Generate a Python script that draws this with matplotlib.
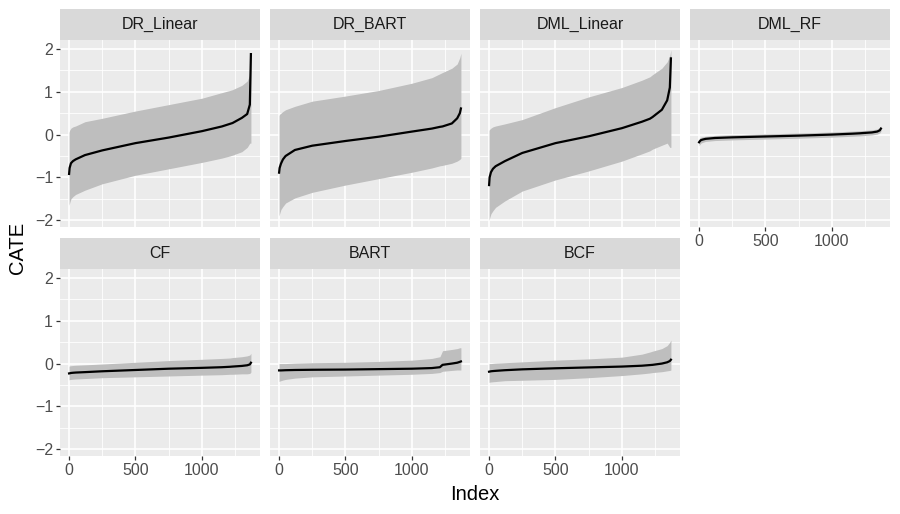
import matplotlib
matplotlib.use("Agg")
import matplotlib.pyplot as plt
import numpy as np

plt.rcParams['font.family'] = ['Liberation Sans', 'DejaVu Sans']

# panel order, as in facet_wrap
models = ['DR_Linear', 'DR_BART', 'DML_Linear', 'DML_RF', 'CF', 'BART', 'BCF']

# observation index (sorted by estimate) at which the curves were read off
index = [1, 5, 15, 30, 50, 120, 250, 500, 750, 1000, 1150, 1210, 1230, 1300, 1340, 1360, 1368]

# estimated CATE and interval bounds per model, read at the index values above
dr_linear_est = [-0.92, -0.78, -0.67, -0.62, -0.58, -0.48, -0.37, -0.20, -0.07, 0.08, 0.19, 0.25, 0.27, 0.39, 0.48, 0.70, 1.88]
dr_linear_lo = [-1.65, -1.60, -1.50, -1.45, -1.40, -1.30, -1.15, -0.95, -0.80, -0.65, -0.55, -0.50, -0.48, -0.40, -0.30, -0.20, -0.20]
dr_linear_hi = [0.05, 0.10, 0.15, 0.18, 0.20, 0.30, 0.38, 0.55, 0.70, 0.85, 0.98, 1.03, 1.05, 1.15, 1.25, 1.40, 1.95]

dr_bart_est = [-0.89, -0.78, -0.68, -0.58, -0.50, -0.36, -0.26, -0.15, -0.05, 0.07, 0.14, 0.18, 0.19, 0.26, 0.38, 0.50, 0.61]
dr_bart_lo = [-1.90, -1.85, -1.75, -1.68, -1.60, -1.48, -1.35, -1.18, -1.03, -0.88, -0.78, -0.73, -0.72, -0.67, -0.62, -0.58, -0.55]
dr_bart_hi = [0.45, 0.47, 0.50, 0.54, 0.58, 0.66, 0.78, 0.90, 1.03, 1.20, 1.33, 1.42, 1.45, 1.55, 1.65, 1.80, 1.90]

dml_linear_est = [-1.18, -1.00, -0.88, -0.80, -0.74, -0.62, -0.43, -0.20, -0.04, 0.15, 0.30, 0.37, 0.41, 0.58, 0.80, 1.10, 1.78]
dml_linear_lo = [-2.00, -1.95, -1.85, -1.78, -1.70, -1.55, -1.32, -1.06, -0.85, -0.62, -0.45, -0.38, -0.34, -0.25, -0.20, -0.30, -0.30]
dml_linear_hi = [0.10, 0.12, 0.15, 0.18, 0.20, 0.25, 0.35, 0.63, 0.88, 1.10, 1.27, 1.35, 1.40, 1.55, 1.70, 1.85, 1.98]

dml_rf_est = [-0.18, -0.16, -0.13, -0.115, -0.10, -0.08, -0.065, -0.045, -0.025, 0.0, 0.02, 0.03, 0.035, 0.05, 0.07, 0.10, 0.14]
dml_rf_lo = [-0.26, -0.24, -0.20, -0.18, -0.16, -0.14, -0.125, -0.105, -0.085, -0.06, -0.04, -0.03, -0.025, -0.01, 0.01, 0.04, 0.08]
dml_rf_hi = [-0.10, -0.08, -0.06, -0.05, -0.04, -0.02, -0.005, 0.015, 0.035, 0.06, 0.08, 0.09, 0.095, 0.11, 0.13, 0.17, 0.20]

cf_est = [-0.23, -0.228, -0.22, -0.215, -0.21, -0.20, -0.18, -0.15, -0.12, -0.10, -0.085, -0.075, -0.07, -0.055, -0.04, -0.02, 0.02]
cf_lo = [-0.38, -0.375, -0.37, -0.365, -0.36, -0.35, -0.33, -0.31, -0.29, -0.27, -0.26, -0.25, -0.25, -0.24, -0.24, -0.23, -0.20]
cf_hi = [-0.06, -0.055, -0.05, -0.045, -0.04, -0.03, -0.01, 0.03, 0.07, 0.10, 0.12, 0.13, 0.14, 0.16, 0.18, 0.20, 0.24]

bart_est = [-0.16, -0.16, -0.16, -0.158, -0.155, -0.15, -0.145, -0.14, -0.13, -0.12, -0.105, -0.085, -0.03, 0.0, 0.02, 0.04, 0.05]
bart_lo = [-0.42, -0.41, -0.40, -0.385, -0.37, -0.34, -0.31, -0.29, -0.27, -0.25, -0.23, -0.21, -0.18, -0.16, -0.15, -0.15, -0.15]
bart_hi = [0.0, 0.0, 0.0, 0.0, 0.0, 0.01, 0.02, 0.03, 0.05, 0.08, 0.12, 0.16, 0.30, 0.33, 0.35, 0.37, 0.37]

bcf_est = [-0.19, -0.187, -0.18, -0.175, -0.17, -0.155, -0.135, -0.11, -0.09, -0.07, -0.05, -0.035, -0.03, 0.0, 0.03, 0.06, 0.09]
bcf_lo = [-0.44, -0.435, -0.43, -0.425, -0.42, -0.40, -0.39, -0.37, -0.33, -0.28, -0.24, -0.22, -0.21, -0.19, -0.17, -0.16, -0.15]
bcf_hi = [0.0, 0.0, 0.0, 0.005, 0.01, 0.02, 0.04, 0.08, 0.11, 0.15, 0.22, 0.27, 0.29, 0.35, 0.42, 0.50, 0.55]

est = [dr_linear_est, dr_bart_est, dml_linear_est, dml_rf_est, cf_est, bart_est, bcf_est]
lo = [dr_linear_lo, dr_bart_lo, dml_linear_lo, dml_rf_lo, cf_lo, bart_lo, bcf_lo]
hi = [dr_linear_hi, dr_bart_hi, dml_linear_hi, dml_rf_hi, cf_hi, bart_hi, bcf_hi]

x_breaks = [0, 500, 1000]
x_minor = [250, 750, 1250]
y_breaks = [-2, -1, 0, 1, 2]
y_minor = [-1.5, -0.5, 0.5, 1.5]

W, H = 900, 514
fig = plt.figure(figsize=(W / 100, H / 100), dpi=100)

col_left = [60, 270, 480, 690]
panel_w = 200
row_top = [40, 269]
panel_h = 187
strip_h = 31

# ggplot style 5% expansion
xr = index[-1] - index[0]
xlim = (index[0] - 0.05 * xr, index[-1] + 0.05 * xr)
ylim = (-2.16, 2.21)

# which panels carry the axis labels
bottom_row = {'DML_RF', 'CF', 'BART', 'BCF'}
left_col = {'DR_Linear', 'CF'}

for i, name in enumerate(models):
    r, c = divmod(i, 4)
    left = col_left[c] / W
    bottom = 1 - (row_top[r] + panel_h) / H
    ax = fig.add_axes([left, bottom, panel_w / W, panel_h / H])
    ax.set_facecolor('#EBEBEB')
    for s in ax.spines.values():
        s.set_visible(False)

    ax.fill_between(index, lo[i], hi[i], color='#BEBEBE', lw=0, zorder=2)
    ax.plot(index, est[i], color='black', lw=1.6, zorder=3)

    ax.set_xlim(xlim)
    ax.set_ylim(ylim)
    ax.set_xticks(x_breaks)
    ax.set_xticks(x_minor, minor=True)
    ax.set_yticks(y_breaks)
    ax.set_yticks(y_minor, minor=True)
    ax.set_yticklabels(['\u22122', '\u22121', '0', '1', '2'])
    ax.grid(which='major', color='white', lw=1.2, zorder=1)
    ax.grid(which='minor', color='white', lw=0.6, zorder=1)
    ax.set_axisbelow(True)
    ax.tick_params(which='minor', length=0)
    ax.tick_params(which='major', length=3, width=0.9, color='#333333',
                   labelsize=11.5, labelcolor='#4D4D4D', pad=2)
    if name not in bottom_row:
        ax.tick_params(axis='x', which='major', length=0, labelbottom=False)
    if name not in left_col:
        ax.tick_params(axis='y', which='major', length=0, labelleft=False)

    # facet strip
    sax = fig.add_axes([left, 1 - row_top[r] / H, panel_w / W, strip_h / H])
    sax.set_facecolor('#D9D9D9')
    sax.set_xticks([])
    sax.set_yticks([])
    for s in sax.spines.values():
        s.set_visible(False)
    sax.text(0.5, 0.5, name, ha='center', va='center', fontsize=11.5,
             color='#1A1A1A', transform=sax.transAxes)

fig.text(475 / W, 1 - 494 / H, 'Index', ha='center', va='center', fontsize=14.5)
fig.text(18 / W, 1 - 248 / H, 'CATE', ha='center', va='center', fontsize=14.5, rotation=90)

fig.savefig('out.png', dpi=100, facecolor='white')
